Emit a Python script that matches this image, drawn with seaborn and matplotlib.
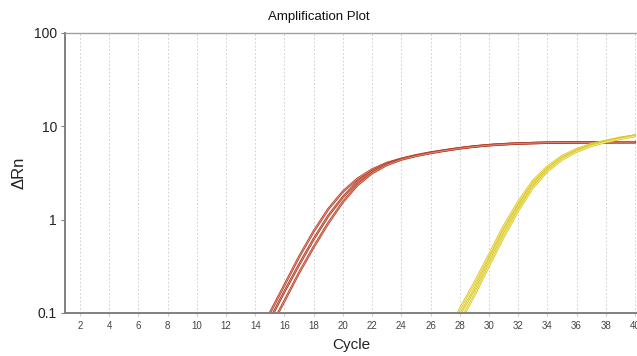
import numpy as np
import pandas as pd
import matplotlib
matplotlib.use("Agg")
import matplotlib.pyplot as plt
import matplotlib.patheffects as pe
from matplotlib.ticker import FixedLocator, FixedFormatter, NullLocator
import seaborn as sns

cycles = list(range(1, 41))

red_a = [0.002, 0.002, 0.002, 0.002, 0.002, 0.002, 0.003, 0.003, 0.004, 0.005,
         0.007, 0.012, 0.025, 0.05, 0.1, 0.2, 0.4, 0.75, 1.3, 2.0,
         2.75, 3.45, 4.05, 4.5, 4.9, 5.25, 5.55, 5.85, 6.1, 6.3,
         6.45, 6.55, 6.62, 6.67, 6.7, 6.72, 6.73, 6.74, 6.75, 6.75]
red_b = [0.002, 0.002, 0.002, 0.002, 0.002, 0.002, 0.003, 0.003, 0.004, 0.005,
         0.006, 0.01, 0.021, 0.042, 0.085, 0.17, 0.33, 0.62, 1.1, 1.75,
         2.55, 3.3, 3.95, 4.45, 4.85, 5.2, 5.52, 5.82, 6.08, 6.28,
         6.43, 6.54, 6.62, 6.67, 6.7, 6.72, 6.74, 6.75, 6.76, 6.76]
red_c = [0.002, 0.002, 0.002, 0.002, 0.002, 0.002, 0.003, 0.003, 0.004, 0.004,
         0.005, 0.009, 0.017, 0.034, 0.068, 0.135, 0.27, 0.51, 0.92, 1.55,
         2.35, 3.15, 3.85, 4.4, 4.82, 5.18, 5.5, 5.8, 6.06, 6.27,
         6.42, 6.54, 6.62, 6.68, 6.71, 6.73, 6.75, 6.76, 6.77, 6.77]

yel_a = [0.002, 0.002, 0.002, 0.002, 0.002, 0.002, 0.002, 0.002, 0.002, 0.002,
         0.002, 0.002, 0.002, 0.002, 0.002, 0.002, 0.002, 0.002, 0.002, 0.002,
         0.002, 0.002, 0.003, 0.004, 0.007, 0.013, 0.05, 0.11, 0.21, 0.42,
         0.85, 1.55, 2.6, 3.7, 4.8, 5.7, 6.45, 7.0, 7.55, 8.0]
yel_b = [0.002, 0.002, 0.002, 0.002, 0.002, 0.002, 0.002, 0.002, 0.002, 0.002,
         0.002, 0.002, 0.002, 0.002, 0.002, 0.002, 0.002, 0.002, 0.002, 0.002,
         0.002, 0.002, 0.003, 0.004, 0.006, 0.011, 0.045, 0.095, 0.18, 0.37,
         0.75, 1.4, 2.4, 3.5, 4.6, 5.5, 6.3, 6.9, 7.45, 7.95]
yel_c = [0.002, 0.002, 0.002, 0.002, 0.002, 0.002, 0.002, 0.002, 0.002, 0.002,
         0.002, 0.002, 0.002, 0.002, 0.002, 0.002, 0.002, 0.002, 0.002, 0.002,
         0.002, 0.002, 0.003, 0.004, 0.005, 0.01, 0.038, 0.08, 0.155, 0.32,
         0.65, 1.25, 2.2, 3.3, 4.4, 5.35, 6.15, 6.8, 7.35, 7.85]

series_names = ["Red A", "Red B", "Red C", "Yellow A", "Yellow B", "Yellow C"]
series_values = [red_a, red_b, red_c, yel_a, yel_b, yel_c]
line_colors = ["#ef9a86", "#ef9a86", "#ef9a86", "#f8f2a0", "#f8f2a0", "#f8f2a0"]
edge_colors = ["#b8452f", "#a83a28", "#b8452f", "#ddc92a", "#d4c020", "#ddc92a"]

x_ticks = list(range(2, 41, 2))
y_ticks = [0.1, 1, 10, 100]
y_tick_labels = ["0.1", "1", "10", "100"]

sns.set_style("white")
plt.rcParams["font.family"] = ["Liberation Sans", "DejaVu Sans"]

fig = plt.figure(figsize=(6.37, 3.56), dpi=100)
left = 65.4 / 637
bottom = 1 - 313 / 356
top = 1 - 33 / 356
ax = fig.add_axes([left, bottom, (637.5 - 65.4) / 637, top - bottom])

df = pd.DataFrame({
    "Cycle": np.tile(cycles, len(series_names)),
    "dRn": np.concatenate(series_values),
    "Sample": np.repeat(series_names, len(cycles)),
})

for name, lc, ec in zip(series_names, line_colors, edge_colors):
    sub = df[df["Sample"] == name]
    sns.lineplot(data=sub, x="Cycle", y="dRn", ax=ax, color=lc, linewidth=0.5,
                 path_effects=[pe.Stroke(linewidth=1.7, foreground=ec), pe.Normal()],
                 legend=False)

ax.set_yscale("log")
ax.set_ylim(0.1, 100)
ax.set_xlim(1.0, 40.17)
ax.yaxis.set_major_locator(FixedLocator(y_ticks))
ax.yaxis.set_major_formatter(FixedFormatter(y_tick_labels))
ax.yaxis.set_minor_locator(NullLocator())
ax.set_xticks(x_ticks)
ax.set_xticklabels([str(t) for t in x_ticks])

for t in x_ticks:
    ax.axvline(t, color="#c8c8c8", linewidth=0.6, linestyle=(0, (2, 2.5)), zorder=0)

for s in ["left", "bottom"]:
    ax.spines[s].set_color("#808080")
    ax.spines[s].set_linewidth(1.4)
ax.spines["top"].set_color("#a0a0a0")
ax.spines["top"].set_linewidth(1.0)
ax.spines["right"].set_visible(False)

ax.tick_params(axis="y", which="major", length=3, width=0.8, color="#808080",
               labelsize=10, labelcolor="#222222", pad=3, left=True)
ax.tick_params(axis="x", which="major", length=2, width=0.6, color="#c0c0c0",
               labelsize=7, labelcolor="#444444", pad=4, bottom=True)

ax.set_xlabel("Cycle", fontsize=11, color="#222222", labelpad=5)
ax.set_ylabel("ΔRn", fontsize=12, color="#222222", labelpad=5)
fig.text(0.5, 1 - 17 / 356, "Amplification Plot", ha="center", va="center",
         fontsize=9.5, color="#111111")

fig.savefig("out.png", dpi=100)
